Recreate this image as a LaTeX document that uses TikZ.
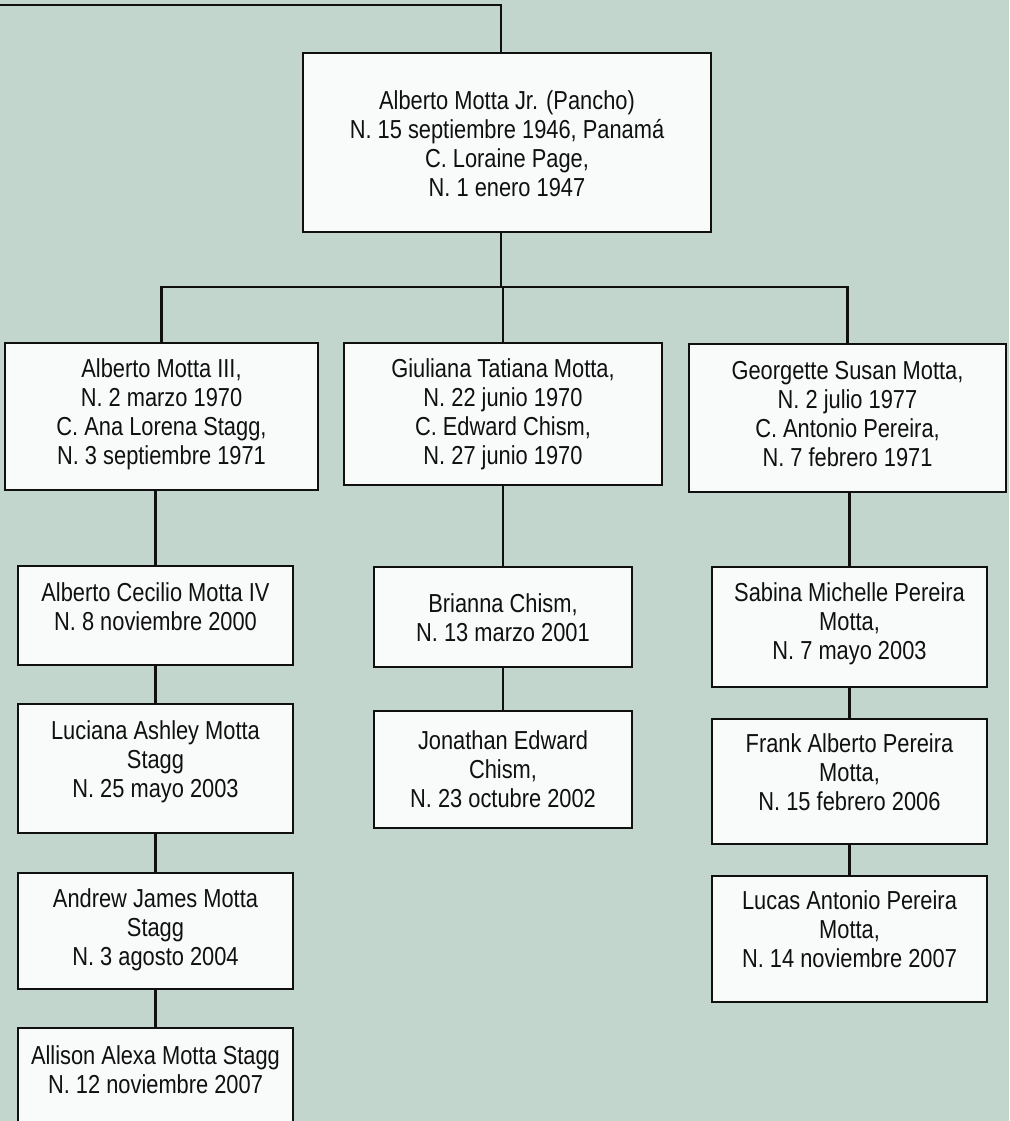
\documentclass[tikz,border=0pt]{standalone}
\usepackage{fontspec}
\setmainfont{Liberation Sans}[FakeStretch=0.84]
\usetikzlibrary{calc}

\definecolor{paper}{RGB}{195,214,206}
\definecolor{boxfill}{RGB}{249,250,250}
\definecolor{ink}{RGB}{16,16,16}

% #1 width, #2 height, #3 first baseline below top edge, #4 lines
\newcommand\famcard[4]{\parbox[c][#2pt][t]{#1pt}{\centering\rule{0pt}{#3pt}#4\par}}

\begin{document}
\begin{tikzpicture}[x=1pt,y=-1pt,
  person/.style={draw=ink, fill=boxfill, line width=2.9pt, inner sep=0pt,
    outer sep=0pt, anchor=north west, text=ink,
    font=\fontsize{26}{29}\selectfont},
  link/.style={draw=ink, line width=2.6pt}]

  \fill[paper] (0,0) rectangle (1009,1121);
  \useasboundingbox (0,0) rectangle (1009,1121);

  % parents
  \node[person] (top) at (303,53) {\famcard{408}{179}{56.3}{Alberto Motta Jr. (Pancho)\\N. 15 septiembre 1946, Panamá\\C. Loraine Page,\\N. 1 enero 1947}};

  % children
  \node[person] (A) at (5,343) {\famcard{313}{147}{34.3}{Alberto Motta III,\\N. 2 marzo 1970\\C. Ana Lorena Stagg,\\N. 3 septiembre 1971}};
  \node[person] (B) at (344,343) {\famcard{318}{142}{34.3}{Giuliana Tatiana Motta,\\N. 22 junio 1970\\C. Edward Chism,\\N. 27 junio 1970}};
  \node[person] (C) at (689,344) {\famcard{317}{148}{35.3}{Georgette Susan Motta,\\N. 2 julio 1977\\C. Antonio Pereira,\\N. 7 febrero 1971}};

  % grandchildren, first branch
  \node[person] (A1) at (18,566) {\famcard{275}{99}{35.3}{Alberto Cecilio Motta IV\\N. 8 noviembre 2000}};
  \node[person] (A2) at (18,704) {\famcard{275}{129}{35.3}{Luciana Ashley Motta\\Stagg\\N. 25 mayo 2003}};
  \node[person] (A3) at (18,873) {\famcard{275}{116}{34.3}{Andrew James Motta\\Stagg\\N. 3 agosto 2004}};
  \node[person] (A4) at (18,1028) {\famcard{275}{110}{36.3}{Allison Alexa Motta Stagg\\N. 12 noviembre 2007}};

  % grandchildren, second branch
  \node[person] (B1) at (374,567) {\famcard{258}{100}{45.3}{Brianna Chism,\\N. 13 marzo 2001}};
  \node[person] (B2) at (374,711) {\famcard{258}{117}{38.3}{Jonathan Edward\\Chism,\\N. 23 octubre 2002}};

  % grandchildren, third branch
  \node[person] (C1) at (712,567) {\famcard{275}{120}{34.3}{Sabina Michelle Pereira\\Motta,\\N. 7 mayo 2003}};
  \node[person] (C2) at (712,719) {\famcard{275}{125}{33.3}{Frank Alberto Pereira\\Motta,\\N. 15 febrero 2006}};
  \node[person] (C3) at (712,876) {\famcard{275}{126}{33.3}{Lucas Antonio Pereira\\Motta,\\N. 14 noviembre 2007}};

  % connectors
  \coordinate (feed) at (0,5);
  \coordinate (jx) at (501,287);
  \draw[link] (feed) -| (top.north -| jx);
  \draw[link] (top.south -| jx) -- (jx);
  \draw[link] (A.north) |- (jx) -| (C.north);
  \draw[link] (B.north) -- (B.north |- jx);

  \draw[link] (A.south -| A1.north) -- (A1.north);
  \draw[link] (A1.south) -- (A2.north);
  \draw[link] (A2.south) -- (A3.north);
  \draw[link] (A3.south) -- (A4.north);

  \draw[link] (B.south -| B1.north) -- (B1.north);
  \draw[link] (B1.south) -- (B2.north);

  \draw[link] (C.south -| C1.north) -- (C1.north);
  \draw[link] (C1.south) -- (C2.north);
  \draw[link] (C2.south) -- (C3.north);
\end{tikzpicture}
\end{document}
